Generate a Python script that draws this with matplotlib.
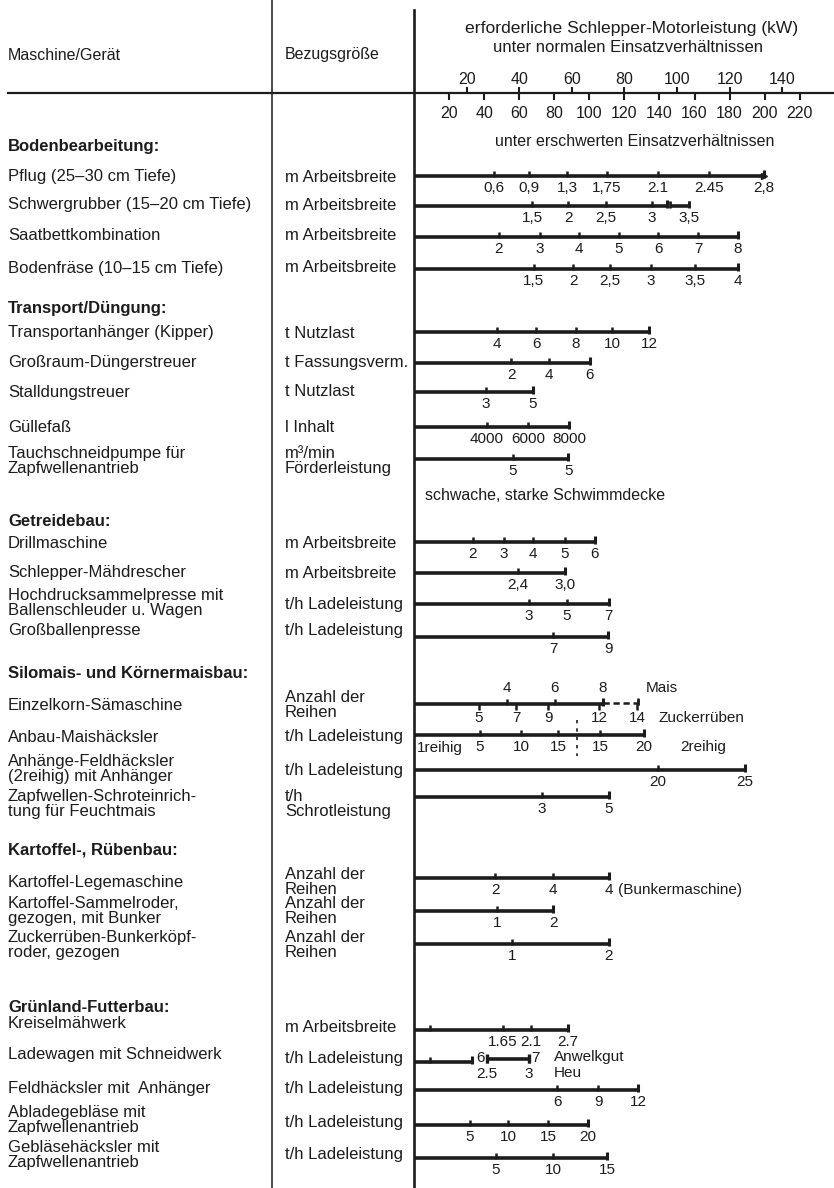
import matplotlib.pyplot as plt
from matplotlib.transforms import blended_transform_factory

plt.rcParams["font.family"] = ["Liberation Sans", "DejaVu Sans"]

# kW scales in the head of the chart
NORMAL_TICKS = [20, 40, 60, 80, 100, 120, 140]
HARD_TICKS = [20, 40, 60, 80, 100, 120, 140, 160, 180, 200, 220]
HARD_FACTOR = 1.5  # erschwerte vs. normale Einsatzverhältnisse

SECTIONS = [
    "Bodenbearbeitung:",
    "Transport/Düngung:",
    "Getreidebau:",
    "Silomais- und Körnermaisbau:",
    "Kartoffel-, Rübenbau:",
    "Grünland-Futterbau:",
]

MACHINES = [
    "Pflug (25–30 cm Tiefe)",
    "Schwergrubber (15–20 cm Tiefe)",
    "Saatbettkombination",
    "Bodenfräse (10–15 cm Tiefe)",
    "Transportanhänger (Kipper)",
    "Großraum-Düngerstreuer",
    "Stalldungstreuer",
    "Güllefaß",
    "Tauchschneidpumpe für\nZapfwellenantrieb",
    "Drillmaschine",
    "Schlepper-Mähdrescher",
    "Hochdrucksammelpresse mit\nBallenschleuder u. Wagen",
    "Großballenpresse",
    "Einzelkorn-Sämaschine",
    "Anbau-Maishäcksler",
    "Anhänge-Feldhäcksler\n(2reihig) mit Anhänger",
    "Zapfwellen-Schroteinrich-\ntung für Feuchtmais",
    "Kartoffel-Legemaschine",
    "Kartoffel-Sammelroder,\ngezogen, mit Bunker",
    "Zuckerrüben-Bunkerköpf-\nroder, gezogen",
    "Kreiselmähwerk",
    "Ladewagen mit Schneidwerk",
    "Feldhäcksler mit  Anhänger",
    "Abladegebläse mit\nZapfwellenantrieb",
    "Gebläsehäcksler mit\nZapfwellenantrieb",
]

UNITS = [
    "m Arbeitsbreite",
    "m Arbeitsbreite",
    "m Arbeitsbreite",
    "m Arbeitsbreite",
    "t Nutzlast",
    "t Fassungsverm.",
    "t Nutzlast",
    "l Inhalt",
    "m³/min\nFörderleistung",
    "m Arbeitsbreite",
    "m Arbeitsbreite",
    "t/h Ladeleistung",
    "t/h Ladeleistung",
    "Anzahl der\nReihen",
    "t/h Ladeleistung",
    "t/h Ladeleistung",
    "t/h\nSchrotleistung",
    "Anzahl der\nReihen",
    "Anzahl der\nReihen",
    "Anzahl der\nReihen",
    "m Arbeitsbreite",
    "t/h Ladeleistung",
    "t/h Ladeleistung",
    "t/h Ladeleistung",
    "t/h Ladeleistung",
]

# kW (normal) at each marked size, and the size printed under it
TICK_KW = [
    [30.4, 43.7, 58.2, 73.4, 92.8, 112.2, 133.1],
    [44.9, 58.6, 73.0, 90.5, 104.6],
    [32.3, 47.9, 62.7, 77.9, 92.8, 108.0, 123.2],
    [45.6, 60.5, 74.5, 90.1, 106.8, 123.2],
    [31.6, 46.4, 61.6, 75.3, 89.4],
    [36.9, 51.3, 66.9],
    [27.4, 45.2],
    [27.8, 43.3, 58.9],
    [37.6, 58.6],
    [22.4, 34.2, 45.2, 57.4, 68.8],
    [39.5, 57.4],
    [43.7, 58.2, 74.1],
    [52.9, 73.8],
    [35.4, 53.6, 71.9, 85.2],
    [25.1, 40.7, 54.8, 70.7, 87.5],
    [92.8, 125.9],
    [48.7, 74.1],
    [30.8, 52.9, 74.1],
    [31.6, 52.9],
    [37.3, 74.1],
    [6.1, 33.8, 44.5, 58.6],
    [6.1, 27.8, 43.7],
    [54.4, 70.0, 85.2],
    [21.3, 35.7, 51.0, 66.2],
    [31.2, 52.9, 73.4],
]
TICK_LABELS = [
    ["0,6", "0,9", "1,3", "1,75", "2.1", "2.45", "2,8"],
    ["1,5", "2", "2,5", "3", "3,5"],
    ["2", "3", "4", "5", "6", "7", "8"],
    ["1,5", "2", "2,5", "3", "3,5", "4"],
    ["4", "6", "8", "10", "12"],
    ["2", "4", "6"],
    ["3", "5"],
    ["4000", "6000", "8000"],
    ["5", "5"],
    ["2", "3", "4", "5", "6"],
    ["2,4", "3,0"],
    ["3", "5", "7"],
    ["7", "9"],
    ["4", "6", "8", ""],
    ["5", "10", "15", "15", "20"],
    ["20", "25"],
    ["3", "5"],
    ["2", "4", "4"],
    ["1", "2"],
    ["1", "2"],
    ["", "1.65", "2.1", "2.7"],
    ["", "2.5", "3"],
    ["6", "9", "12"],
    ["5", "10", "15", "20"],
    ["5", "10", "15"],
]
BAR_END = [133.1, 96.2, 123.2, 123.2, 89.4, 66.9, 45.2, 58.9, 58.6, 68.8,
           57.4, 74.1, 73.8, 71.9, 87.5, 125.9, 74.1, 74.1, 52.9, 74.1,
           58.6, 22.0, 85.2, 66.2, 73.4]

GRUBBER_EXTRA = (97.3, 104.6)          # Schwergrubber, 3 - 3,5 m
MAIS_DASHED = (71.9, 85.2)             # Einzelkorn, Mais 8 - 10 Reihen
ZUCKER_KW = [24.7, 38.8, 51.0, 70.3, 84.8]
ZUCKER_LABELS = ["5", "7", "9", "12", "14"]
REIHIG_SPLIT_KW = 62.0                 # Anbau-Maishäcksler 1reihig | 2reihig
LADEWAGEN_SEG = (27.8, 43.7)           # Anwelkgut 6-7 / Heu 2.5-3 t/h
LADEWAGEN_ANWELK = ["6", "7"]

# ---- layout (pixels of the 834 x 1188 page) ----
W, H = 834, 1188
X0 = 414            # 0 kW
PX_PER_KW = 2.63
SCALE_Y = 93
SECTION_Y = [146, 308, 521, 673, 850, 1007]
ROW_Y = [176, 206, 237, 269, 332, 363, 392, 427, 459, 542, 573, 604, 637,
         704, 735, 770, 797, 878, 911, 944, 1030, 1062, 1090, 1125, 1158]
NAME_Y = [177, 205, 236, 268, 333, 363, 392, 428, 461, 543, 573, 603, 630,
          705, 737, 769, 804, 882, 911, 945, 1023, 1055, 1088, 1120, 1155]
UNIT_Y = [177, 205, 236, 268, 333, 363, 392, 428, 461, 543, 573, 604, 630,
          705, 737, 770, 804, 882, 911, 945, 1027, 1058, 1088, 1122, 1155]

INK = "#1c1c1c"
FS = 12
FS_NUM = 11
BAR_LW = 2.6

fig = plt.figure(figsize=(W / 100, H / 100), dpi=100)
fig.patch.set_facecolor("white")
ax = fig.add_axes([0, 0, 1, 1])
ax.set_xlim(-X0 / PX_PER_KW, (W - X0) / PX_PER_KW)
ax.set_ylim(H, 0)
ax.axis("off")
col = blended_transform_factory(ax.transAxes, ax.transData)

# frame lines
ax.plot([272 / W, 272 / W], [0, H], transform=col, color=INK, lw=1.1)
ax.plot([0, 0], [10, H], color=INK, lw=1.9)
ax.plot([8 / W, 1], [SCALE_Y, SCALE_Y], transform=col, color=INK, lw=1.6)

# header
ax.text(8 / W, 55, "Maschine/Gerät", transform=col, fontsize=FS - 0.5,
        color=INK, va="center")
ax.text(285 / W, 55, "Bezugsgröße", transform=col, fontsize=FS - 0.5,
        color=INK, va="center")
ax.text(632 / W, 28, "erforderliche Schlepper-Motorleistung (kW)",
        transform=col, fontsize=FS + 0.6, color=INK, ha="center",
        va="center")
ax.text(628 / W, 47, "unter normalen Einsatzverhältnissen", transform=col,
        fontsize=FS, color=INK, ha="center", va="center")
ax.text(635 / W, 142, "unter erschwerten Einsatzverhältnissen",
        transform=col, fontsize=FS - 0.5, color=INK, ha="center",
        va="center")

# two kW scales on one line
ax.vlines(NORMAL_TICKS, SCALE_Y - 6, SCALE_Y, color=INK, lw=1.5)
for t in NORMAL_TICKS:
    ax.text(t, SCALE_Y - 13, str(t), fontsize=FS_NUM + 0.5, color=INK,
            ha="center", va="center")
hard_x = [t / HARD_FACTOR for t in HARD_TICKS]
ax.vlines(hard_x, SCALE_Y, SCALE_Y + 7, color=INK, lw=1.5)
for t, x in zip(HARD_TICKS, hard_x):
    ax.text(x, SCALE_Y + 20, str(t), fontsize=FS_NUM + 0.5, color=INK,
            ha="center", va="center")

# section titles
for name, y in zip(SECTIONS, SECTION_Y):
    ax.text(8 / W, y, name, transform=col, fontsize=FS, fontweight="bold",
            color=INK, va="center")

# rows
for i, name in enumerate(MACHINES):
    y = ROW_Y[i]
    ax.text(8 / W, NAME_Y[i], name, transform=col, fontsize=FS, color=INK,
            va="center", linespacing=1.0)
    ax.text(285 / W, UNIT_Y[i], UNITS[i], transform=col, fontsize=FS,
            color=INK, va="center", linespacing=1.0)
    ax.plot([0, BAR_END[i]], [y, y], color=INK, lw=BAR_LW,
            solid_capstyle="butt")
    ax.vlines(TICK_KW[i], y - 5, y + 1, color=INK, lw=1.8)
    ax.vlines([BAR_END[i]], y - 6, y + 1.5, color=INK, lw=2.2)
    label_y = y - 16 if i == 13 else y + 12
    for x, lab in zip(TICK_KW[i], TICK_LABELS[i]):
        ax.text(x, label_y, lab, fontsize=FS_NUM, color=INK, ha="center",
                va="center")

# Pflug: bar ends in an arrow
y = ROW_Y[0]
ax.plot([BAR_END[0]], [y], marker=">", ms=5, color=INK)

# Schwergrubber: short extra piece
y = ROW_Y[1]
ax.plot(GRUBBER_EXTRA, [y, y], color=INK, lw=BAR_LW, solid_capstyle="butt")
ax.vlines(GRUBBER_EXTRA, y - 5, y + 1.5, color=INK, lw=2.0)

# Tauchschneidpumpe note
ax.annotate("schwache, starke Schwimmdecke", (0, ROW_Y[8] + 37),
            xytext=(11, 0), textcoords="offset pixels", fontsize=FS - 0.5,
            color=INK, ha="left", va="center")

# Einzelkorn-Sämaschine: Mais above, Zuckerrüben below
y = ROW_Y[13]
ax.plot(MAIS_DASHED, [y - 1, y - 1], color=INK, lw=1.8, ls=(0, (2.5, 1.5)))
ax.vlines([MAIS_DASHED[1]], y - 6, y + 1, color=INK, lw=1.8)
ax.vlines(ZUCKER_KW, y, y + 6, color=INK, lw=1.8)
for x, lab in zip(ZUCKER_KW, ZUCKER_LABELS):
    ax.text(x, y + 14, lab, fontsize=FS_NUM, color=INK, ha="center",
            va="center")
ax.annotate("Mais", (MAIS_DASHED[1], y - 16), xytext=(8, 0),
            textcoords="offset pixels", fontsize=FS_NUM, color=INK,
            ha="left", va="center")
ax.annotate("Zuckerrüben", (ZUCKER_KW[-1], y + 14), xytext=(21, 0),
            textcoords="offset pixels", fontsize=FS_NUM, color=INK,
            ha="left", va="center")

# Anbau-Maishäcksler: 1reihig | 2reihig
y = ROW_Y[14]
ax.plot([REIHIG_SPLIT_KW] * 2, [y - 15, y + 21], color=INK, lw=1.2,
        ls=(0, (2, 3)))
ax.annotate("1reihig", (0, y + 13), xytext=(3, 0),
            textcoords="offset pixels", fontsize=FS_NUM, color=INK,
            ha="left", va="center")
ax.annotate("2reihig", (TICK_KW[14][-1], y + 12), xytext=(36, 0),
            textcoords="offset pixels", fontsize=FS_NUM, color=INK,
            ha="left", va="center")

# Kartoffel-Legemaschine note
ax.annotate("(Bunkermaschine)", (TICK_KW[17][-1], ROW_Y[17] + 12),
            xytext=(9, 0), textcoords="offset pixels", fontsize=FS_NUM,
            color=INK, ha="left", va="center")

# Ladewagen: Anwelkgut / Heu segment
y = ROW_Y[21]
ax.plot(LADEWAGEN_SEG, [y - 3, y - 3], color=INK, lw=BAR_LW,
        solid_capstyle="butt")
ax.vlines(LADEWAGEN_SEG, y - 8, y + 1, color=INK, lw=2.4)
ax.annotate(LADEWAGEN_ANWELK[0], (LADEWAGEN_SEG[0], y - 4), xytext=(-2, 0),
            textcoords="offset pixels", fontsize=FS_NUM, color=INK,
            ha="right", va="center")
ax.annotate(LADEWAGEN_ANWELK[1], (LADEWAGEN_SEG[1], y - 4), xytext=(2, 0),
            textcoords="offset pixels", fontsize=FS_NUM, color=INK,
            ha="left", va="center")
ax.annotate("Anwelkgut", (LADEWAGEN_SEG[1], y - 5), xytext=(25, 0),
            textcoords="offset pixels", fontsize=FS_NUM, color=INK,
            ha="left", va="center")
ax.annotate("Heu", (LADEWAGEN_SEG[1], y + 11), xytext=(25, 0),
            textcoords="offset pixels", fontsize=FS_NUM, color=INK,
            ha="left", va="center")

fig.savefig("out.png", dpi=100, facecolor="white")
